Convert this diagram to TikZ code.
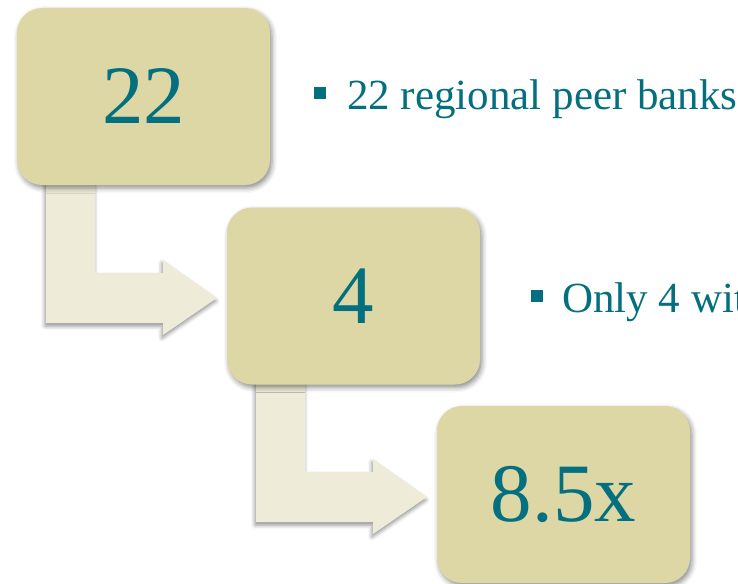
\documentclass[tikz,border=0pt]{standalone}
\usepackage{fontspec}
\setmainfont{Liberation Serif}
\usetikzlibrary{shadows.blur,calc}
\definecolor{boxfill}{HTML}{DDD7A5}
\definecolor{arrowfill}{HTML}{EEEBD8}
\definecolor{teal}{HTML}{036F7F}
\tikzset{
  numbox/.style={draw=none, fill=boxfill, rounded corners=25pt, minimum width=253pt, minimum height=177pt,
    inner sep=0pt, text=teal, font=\fontsize{83}{83}\selectfont,
    blur shadow={shadow xshift=2pt, shadow yshift=-3pt, shadow blur radius=5pt, shadow opacity=45}},
  blockarrow/.style={fill=arrowfill, draw=none,
    blur shadow={shadow xshift=-1pt, shadow yshift=-3pt, shadow blur radius=4pt, shadow opacity=45}},
  bullettext/.style={anchor=base west, inner sep=0pt, text=teal, font=\fontsize{43}{43}\selectfont},
  bulletsq/.style={fill=teal, draw=none, minimum width=12pt, minimum height=12pt, inner sep=0pt}
}
\begin{document}
\begin{tikzpicture}[x=1pt,y=-1pt]
\useasboundingbox (0,0) rectangle (738,583);
\clip (0,0) rectangle (738,583);
% block arrows (drawn first, below the boxes)
\foreach \dx/\dy in {0/0,210/199}{
  \begin{scope}[shift={(\dx,\dy)}]
    \path[blockarrow] (46,120) -- (46,323) -- (163,323) -- (163,335) -- (217,298) -- (163,260) -- (163,273) -- (95,273) -- (95,120) -- cycle;
  \end{scope}
}
% boxes
\node[numbox] (b1) at (143.5,96.5) {22};
\node[numbox] (b2) at (353.5,296) {4};
\node[numbox] (b3) at (563.5,494.5) {8.5x};
% bullets
\node[bulletsq] (s1) at (319.5,93.5) {};
\node[bullettext] (t1) at (347,110) {22 regional peer banks};
\node[bulletsq] (s2) at (536.5,296) {};
\node[bullettext] (t2) at (562,312) {Only 4 wit};
\end{tikzpicture}
\end{document}
